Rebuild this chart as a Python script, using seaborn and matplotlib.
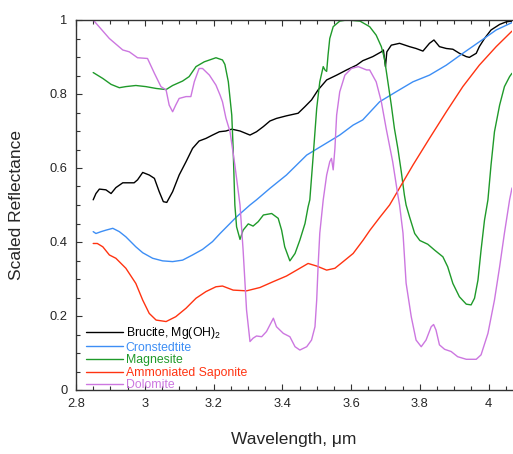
import numpy as np
import pandas as pd
import matplotlib
matplotlib.use("Agg")
import matplotlib.pyplot as plt
from matplotlib.ticker import MultipleLocator, FuncFormatter
from matplotlib.lines import Line2D
import seaborn as sns

# ---------------- data ----------------
names = ["Brucite, Mg(OH)$_\\mathregular{2}$", "Cronstedtite", "Magnesite",
         "Ammoniated Saponite", "Dolomite"]
colors = ["#000000", "#3d8ef5", "#1f9a2a", "#ff3311", "#cc77e0"]

brucite_x = [2.85, 2.858, 2.868, 2.887, 2.902, 2.916, 2.936, 2.969, 2.979, 2.994, 3.013, 3.028,
             3.042, 3.054, 3.064, 3.081, 3.10, 3.12, 3.139, 3.158, 3.178, 3.197, 3.217, 3.236,
             3.253, 3.277, 3.306, 3.325, 3.345, 3.364, 3.383, 3.412, 3.446, 3.466, 3.485, 3.504,
             3.529, 3.558, 3.587, 3.616, 3.634, 3.663, 3.688, 3.694, 3.70, 3.704, 3.717, 3.741,
             3.77, 3.789, 3.809, 3.828, 3.841, 3.857, 3.877, 3.896, 3.915, 3.935, 3.944, 3.964,
             3.973, 3.988, 4.007, 4.032, 4.051, 4.068]
brucite_y = [0.514, 0.531, 0.543, 0.541, 0.531, 0.547, 0.560, 0.560, 0.568, 0.588, 0.581, 0.572,
             0.536, 0.509, 0.507, 0.536, 0.581, 0.617, 0.653, 0.673, 0.680, 0.689, 0.698, 0.700,
             0.705, 0.700, 0.689, 0.698, 0.712, 0.727, 0.734, 0.741, 0.748, 0.766, 0.784, 0.811,
             0.838, 0.851, 0.865, 0.878, 0.890, 0.901, 0.914, 0.919, 0.874, 0.914, 0.932, 0.937,
             0.928, 0.923, 0.916, 0.937, 0.946, 0.928, 0.923, 0.921, 0.910, 0.901, 0.899, 0.910,
             0.928, 0.950, 0.973, 0.988, 0.995, 0.997]

cron_x = [2.85, 2.858, 2.873, 2.887, 2.907, 2.926, 2.945, 2.974, 2.994, 3.023, 3.052, 3.081,
          3.11, 3.139, 3.168, 3.197, 3.219, 3.267, 3.306, 3.325, 3.364, 3.412, 3.471, 3.519,
          3.567, 3.606, 3.634, 3.683, 3.731, 3.78, 3.828, 3.877, 3.925, 3.973, 4.022, 4.068]
cron_y = [0.428, 0.423, 0.428, 0.432, 0.437, 0.428, 0.414, 0.387, 0.371, 0.356, 0.349, 0.347,
          0.351, 0.365, 0.380, 0.401, 0.423, 0.468, 0.500, 0.514, 0.545, 0.581, 0.635, 0.662,
          0.689, 0.716, 0.730, 0.779, 0.806, 0.833, 0.851, 0.878, 0.910, 0.941, 0.973, 0.993]

magn_x = [2.85, 2.878, 2.902, 2.926, 2.945, 2.974, 3.003, 3.033, 3.062, 3.081, 3.11, 3.129,
          3.149, 3.173, 3.207, 3.226, 3.233, 3.243, 3.253, 3.257, 3.262, 3.267, 3.277, 3.286,
          3.301, 3.315, 3.33, 3.345, 3.369, 3.388, 3.398, 3.407, 3.422, 3.437, 3.451, 3.466,
          3.475, 3.48, 3.49, 3.50, 3.509, 3.519, 3.524, 3.529, 3.533, 3.538, 3.548, 3.567,
          3.587, 3.626, 3.654, 3.673, 3.688, 3.697, 3.707, 3.717, 3.726, 3.736, 3.746, 3.755,
          3.76, 3.77, 3.785, 3.80, 3.823, 3.843, 3.867, 3.881, 3.896, 3.915, 3.935, 3.949,
          3.959, 3.969, 3.978, 3.988, 3.998, 4.007, 4.017, 4.032, 4.046, 4.061, 4.068]
magn_y = [0.858, 0.842, 0.826, 0.817, 0.820, 0.823, 0.820, 0.815, 0.812, 0.823, 0.835, 0.847,
          0.874, 0.887, 0.898, 0.892, 0.880, 0.833, 0.743, 0.653, 0.500, 0.441, 0.407, 0.432,
          0.449, 0.443, 0.455, 0.473, 0.477, 0.464, 0.432, 0.387, 0.349, 0.369, 0.405, 0.450,
          0.495, 0.514, 0.635, 0.761, 0.833, 0.874, 0.865, 0.861, 0.905, 0.950, 0.982, 0.997,
          1.000, 0.997, 0.982, 0.959, 0.928, 0.896, 0.833, 0.770, 0.707, 0.653, 0.590, 0.527,
          0.500, 0.468, 0.423, 0.404, 0.394, 0.378, 0.360, 0.333, 0.288, 0.252, 0.232, 0.230,
          0.248, 0.297, 0.378, 0.459, 0.514, 0.608, 0.698, 0.770, 0.820, 0.847, 0.856]

sapo_x = [2.85, 2.862, 2.878, 2.897, 2.916, 2.945, 2.974, 2.994, 3.013, 3.033, 3.062, 3.09,
          3.12, 3.149, 3.178, 3.207, 3.226, 3.257, 3.296, 3.335, 3.374, 3.412, 3.451, 3.475,
          3.50, 3.529, 3.553, 3.577, 3.606, 3.635, 3.655, 3.683, 3.712, 3.78, 3.828, 3.877,
          3.925, 3.973, 4.022, 4.068]
sapo_y = [0.396, 0.396, 0.387, 0.365, 0.356, 0.329, 0.288, 0.243, 0.207, 0.189, 0.185, 0.198,
          0.221, 0.248, 0.266, 0.279, 0.281, 0.270, 0.268, 0.277, 0.293, 0.308, 0.329, 0.342,
          0.335, 0.324, 0.329, 0.347, 0.369, 0.405, 0.432, 0.466, 0.500, 0.608, 0.680, 0.752,
          0.820, 0.878, 0.928, 0.970]

dolo_x = [2.85, 2.897, 2.936, 2.955, 2.979, 3.008, 3.028, 3.047, 3.062, 3.071, 3.081, 3.09,
          3.10, 3.12, 3.134, 3.144, 3.158, 3.168, 3.188, 3.207, 3.219, 3.226, 3.236, 3.248,
          3.262, 3.277, 3.286, 3.296, 3.306, 3.315, 3.325, 3.34, 3.354, 3.374, 3.383, 3.403,
          3.422, 3.437, 3.451, 3.471, 3.485, 3.495, 3.50, 3.504, 3.509, 3.519, 3.529, 3.538,
          3.543, 3.548, 3.553, 3.558, 3.567, 3.582, 3.601, 3.621, 3.645, 3.654, 3.673, 3.688,
          3.702, 3.721, 3.736, 3.741, 3.751, 3.76, 3.775, 3.789, 3.804, 3.818, 3.833, 3.84,
          3.847, 3.857, 3.872, 3.891, 3.91, 3.935, 3.964, 3.978, 3.998, 4.017, 4.032, 4.046,
          4.061, 4.068]
dolo_y = [1.000, 0.950, 0.919, 0.914, 0.898, 0.896, 0.856, 0.820, 0.811, 0.770, 0.752, 0.770,
          0.788, 0.793, 0.793, 0.833, 0.869, 0.869, 0.851, 0.824, 0.797, 0.779, 0.735, 0.698,
          0.608, 0.500, 0.378, 0.216, 0.131, 0.140, 0.146, 0.144, 0.158, 0.194, 0.171, 0.153,
          0.144, 0.117, 0.108, 0.117, 0.135, 0.171, 0.243, 0.333, 0.424, 0.514, 0.581, 0.617,
          0.626, 0.595, 0.653, 0.743, 0.806, 0.851, 0.869, 0.874, 0.865, 0.865, 0.833, 0.779,
          0.707, 0.617, 0.527, 0.500, 0.424, 0.289, 0.198, 0.135, 0.117, 0.135, 0.171, 0.177,
          0.162, 0.122, 0.110, 0.104, 0.090, 0.083, 0.083, 0.095, 0.153, 0.243, 0.333, 0.424,
          0.514, 0.546]

xs = [brucite_x, cron_x, magn_x, sapo_x, dolo_x]
ys = [brucite_y, cron_y, magn_y, sapo_y, dolo_y]

frames = []
for n, x, y in zip(names, xs, ys):
    frames.append(pd.DataFrame({"wl": x, "r": y, "mineral": n}))
df = pd.concat(frames, ignore_index=True)

# ---------------- style ----------------
sns.set_style("ticks")
plt.rcParams["font.family"] = ["Liberation Sans", "DejaVu Sans"]
plt.rcParams["mathtext.fontset"] = "custom"
plt.rcParams["mathtext.rm"] = "Liberation Sans"
plt.rcParams["mathtext.it"] = "Liberation Sans:italic"

fig = plt.figure(figsize=(5.13, 4.54), dpi=100)
ax = fig.add_axes([76 / 513, 1 - 390 / 454, 436 / 513, 370 / 454])

for n, c in zip(names, colors):
    sns.lineplot(data=df[df["mineral"] == n], x="wl", y="r", color=c, sort=False,
                 estimator=None, linewidth=1.0, ax=ax, legend=False)

ax.set_xlim(2.8, 4.068)
ax.set_ylim(0, 1)
ax.spines["right"].set_visible(False)
for s in ["left", "bottom", "top"]:
    ax.spines[s].set_linewidth(1.0)
    ax.spines[s].set_color("#333333")

ax.xaxis.set_major_locator(MultipleLocator(0.2))
ax.xaxis.set_minor_locator(MultipleLocator(0.05))
ax.yaxis.set_major_locator(MultipleLocator(0.2))
ax.yaxis.set_minor_locator(MultipleLocator(0.05))
fmt = FuncFormatter(lambda v, p: f"{v:.10g}" if abs(v) > 1e-9 else "0")
ax.xaxis.set_major_formatter(fmt)
ax.yaxis.set_major_formatter(fmt)
ax.tick_params(which="both", direction="in", top=True, right=False, labelsize=9.3,
               color="#333333", width=0.8)
ax.tick_params(which="major", length=4.5, pad=6)
ax.tick_params(which="minor", length=2.8)

ax.set_xlabel("Wavelength, μm", fontsize=12.5)
ax.set_ylabel("Scaled Reflectance", fontsize=12.5)
ax.xaxis.set_label_coords(0.5, -0.114)
ax.yaxis.set_label_coords(-0.119, 0.5)

handles = [Line2D([0], [0], color=c, linewidth=1.0) for c in colors]
leg = ax.legend(handles, names, loc="lower left", bbox_to_anchor=(0.023, -0.004),
                frameon=False, fontsize=8.8, handlelength=3.0, handletextpad=0.25,
                labelspacing=0.05, borderpad=0.0, borderaxespad=0.0, labelcolor=colors)

fig.savefig("out.png", dpi=100)
